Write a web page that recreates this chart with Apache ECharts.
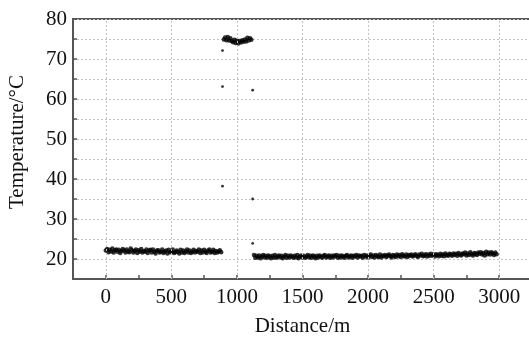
<!DOCTYPE html>
<html>
<head>
<meta charset="utf-8">
<script src="https://cdn.jsdelivr.net/npm/echarts@6/dist/echarts.min.js"></script>
<style>html,body{margin:0;padding:0;background:#fff}#c{width:529px;height:337px}</style>
</head>
<body>
<div id="c"></div>
<script>
// Segment 1: cold section, distances 0..880 m sampled every 10 m
const seg1Start = 0, seg1Step = 10;
const seg1Temp = [
22.1,22.5,21.7,22.3,21.9,22.6,21.6,22.2,22.4,21.8,
22.3,21.5,22.0,22.5,22.1,21.6,22.4,21.9,21.7,22.6,
22.2,21.6,22.0,22.4,21.5,22.2,21.8,22.5,21.6,22.0,
21.8,22.4,21.5,22.1,22.3,21.6,22.4,21.8,21.4,22.1,
22.2,21.6,21.8,22.4,21.5,21.9,22.1,21.4,22.3,21.7,
21.8,22.4,21.5,21.7,22.1,21.8,21.4,22.3,21.6,22.1,
21.5,21.9,22.4,21.6,22.1,21.5,21.8,22.3,21.6,22.0,
21.8,22.4,21.5,22.1,21.6,22.3,21.8,21.5,22.1,22.4,
21.6,21.8,22.3,21.5,22.0,21.6,21.9,22.2,21.7
];
// Segment 2: hot section, distances 900..1110 m
const seg2Start = 900, seg2Step = 10;
const seg2Temp = [
74.9,75.4,74.7,75.5,74.6,75.2,74.5,74.2,74.8,74.0,74.6,
73.9,74.5,74.1,74.7,74.3,74.9,74.4,75.3,74.6,75.2,74.8
];
// Segment 3: distances 1130..2980 m
const seg3Start = 1130, seg3Step = 10;
const seg3Temp = [
21.0,20.3,20.8,20.4,20.9,20.2,20.6,21.0,20.4,20.8,
20.3,20.9,20.6,20.2,20.8,20.4,21.0,20.3,20.6,20.9,
20.4,20.8,20.2,20.6,21.0,20.3,20.8,20.4,20.9,20.6,
20.3,20.8,20.4,21.0,20.2,20.6,20.9,20.4,20.8,20.3,
20.6,21.0,20.4,20.8,20.3,20.9,20.6,20.2,20.8,20.4,
20.9,20.6,20.3,20.8,21.0,20.4,20.6,20.9,20.3,20.8,
20.4,20.9,20.6,21.0,20.3,20.8,20.4,20.9,20.6,20.3,
20.8,21.0,20.4,20.6,20.9,20.3,20.8,20.6,21.0,20.4,
20.9,20.6,20.8,20.3,21.0,20.6,20.9,20.4,20.8,21.1,
20.5,20.9,20.4,21.0,20.7,20.5,21.1,20.4,20.9,20.7,
21.0,20.5,20.9,21.1,20.7,20.4,21.0,20.8,20.5,21.1,
20.7,21.0,20.5,21.2,20.8,20.6,21.1,20.5,21.0,20.8,
21.1,20.6,20.9,21.2,20.8,20.5,21.1,20.9,21.3,20.7,
20.9,21.2,20.6,21.1,20.8,21.3,20.8,21.1,20.6,21.2,
21.0,20.7,21.3,20.8,21.2,20.7,21.4,21.0,20.8,21.3,
21.1,20.8,21.4,21.0,21.3,20.8,21.5,21.1,20.9,21.4,
21.2,21.6,20.9,21.4,21.0,21.7,21.2,20.9,21.5,21.3,
21.0,21.6,21.3,21.7,21.1,21.5,20.9,21.8,21.2,21.6,
21.1,21.7,21.4,21.0,21.6,21.2
];
// Transition outliers
const outlierDist = [890, 890, 890, 1120, 1120, 1120];
const outlierTemp = [72.1, 63.1, 38.2, 62.2, 35.0, 23.9];
// Axis ticks
const xMajorTicks = [0, 500, 1000, 1500, 2000, 2500, 3000];
const yTickLabels = [20, 30, 40, 50, 60, 70, 80];

function seg(start, step, temps) {
  return temps.map((t, i) => [start + i * step, t]);
}
const bandData = []
  .concat(seg(seg1Start, seg1Step, seg1Temp))
  .concat(seg(seg2Start, seg2Step, seg2Temp))
  .concat(seg(seg3Start, seg3Step, seg3Temp));
const outlierData = outlierDist.map((d, i) => [d, outlierTemp[i]]);

const font = 'Liberation Serif';
const gridColor = '#c2c2c2';
const chart = echarts.init(document.getElementById('c'), null, {renderer: 'canvas'});
chart.setOption({
  animation: false,
  backgroundColor: '#fff',
  grid: {left: 73, top: 19, right: -3, bottom: 58, containLabel: false, outerBoundsMode: 'none',
    show: true, borderColor: '#555', borderWidth: 2, backgroundColor: 'transparent'},
  xAxis: {
    type: 'value', min: -250, max: 3250, interval: 250,
    name: 'Distance/m', nameLocation: 'middle', nameGap: 37,
    nameTextStyle: {fontFamily: font, fontSize: 21, color: '#111'},
    axisLine: {onZero: false, lineStyle: {color: '#555', width: 2}},
    axisTick: {inside: true, length: 4, lineStyle: {color: '#555', width: 1.5}},
    axisLabel: {fontFamily: font, fontSize: 21, color: '#111', margin: 8,
      formatter: v => xMajorTicks.indexOf(v) >= 0 ? String(v) : ''},
    splitLine: {show: false}
  },
  yAxis: {
    type: 'value', min: 15, max: 80, interval: 5,
    name: 'Temperature/°C', nameLocation: 'middle', nameGap: 45,
    nameTextStyle: {fontFamily: font, fontSize: 21, color: '#111', padding: [0, 0, 0, 14]},
    axisLine: {onZero: false, lineStyle: {color: '#555', width: 2}},
    axisTick: {inside: true, length: 4, lineStyle: {color: '#555', width: 1.5}},
    axisLabel: {fontFamily: font, fontSize: 21, color: '#111', margin: 6,
      formatter: v => yTickLabels.indexOf(v) >= 0 ? String(v) : ''},
    splitLine: {show: true, lineStyle: {color: gridColor, type: [2, 2], width: 1}}
  },
  series: [
    {
      type: 'scatter', data: bandData, symbolSize: 4.5,
      itemStyle: {color: '#000'},
      markLine: {
        silent: true, symbol: 'none', label: {show: false},
        lineStyle: {color: gridColor, type: [2, 2], width: 1},
        data: xMajorTicks.map(v => ({xAxis: v}))
      },
      z: 3
    },
    {
      type: 'scatter', data: outlierData, symbolSize: 2.8,
      itemStyle: {color: '#000'}, z: 3
    }
  ]
});
</script>
</body>
</html>
